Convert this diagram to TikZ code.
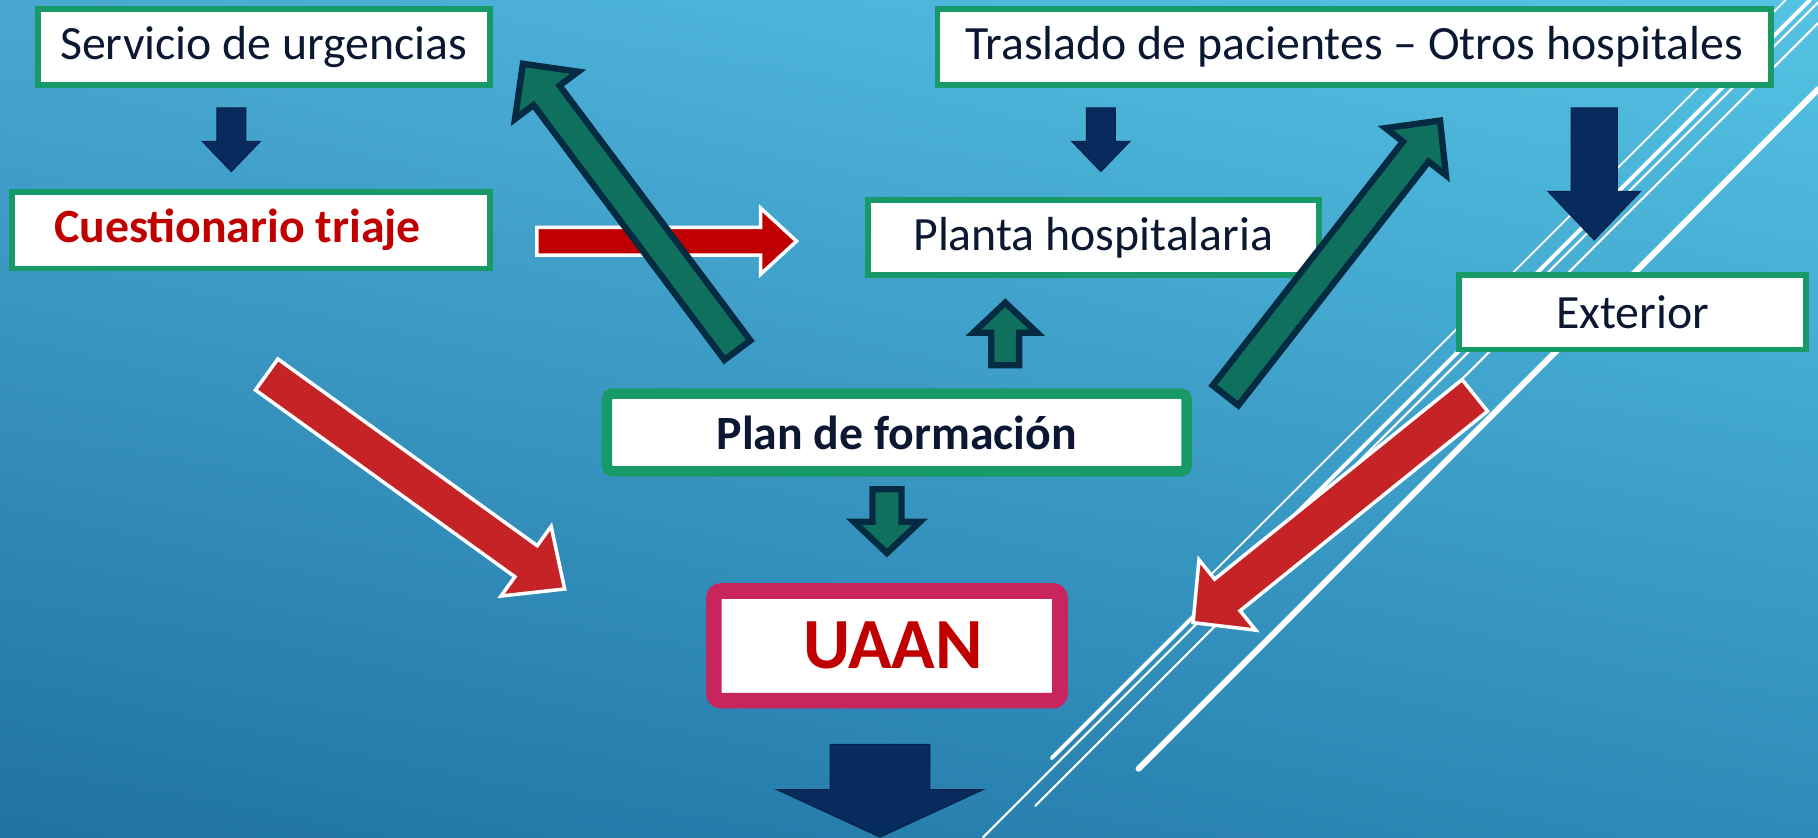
\documentclass[tikz,border=0pt]{standalone}
\usepackage{fontspec}
\setmainfont{Carlito}
\usetikzlibrary{calc, shadings}

\definecolor{boxgreen}{RGB}{24,154,104}
\definecolor{txtnavy}{RGB}{12,24,50}
\definecolor{arrownavy}{RGB}{6,43,92}
\definecolor{tealfill}{RGB}{16,112,94}
\definecolor{tealline}{RGB}{5,43,66}
\definecolor{redfill}{RGB}{198,35,38}
\definecolor{triajered}{RGB}{192,0,0}
\definecolor{uaanpink}{RGB}{200,36,94}
\definecolor{bgul}{RGB}{72,168,210}
\definecolor{bgur}{RGB}{85,195,228}
\definecolor{bgll}{RGB}{32,114,162}
\definecolor{bglr}{RGB}{46,139,185}

\newcommand{\dpx}{0.011594cm}
% block arrow: style, tail, tip, half shaft, half head, head length
\newcommand{\blockarrow}[6][]{%
  \pgfmathsetmacro{\shaftw}{#4*0.011594}%
  \pgfmathsetmacro{\headw}{#5*0.011594}%
  \pgfmathsetmacro{\headl}{#6*0.011594}%
  \draw[#1] ($(#2)!\shaftw cm!90:(#3)$)
    -- ($(#3)!\headl cm!(#2)!\shaftw cm!90:(#3)$)
    -- ($(#3)!\headl cm!(#2)!\headw cm!90:(#3)$)
    -- (#3)
    -- ($(#3)!\headl cm!(#2)!\headw cm!-90:(#3)$)
    -- ($(#3)!\headl cm!(#2)!\shaftw cm!-90:(#3)$)
    -- ($(#2)!\shaftw cm!-90:(#3)$) -- cycle;}

\begin{document}
\begin{tikzpicture}[x=0.011594cm, y=-0.011594cm,
  box/.style={draw=boxgreen, line width=1.65pt, fill=white, inner sep=0pt, text=txtnavy, font=\fontsize{13.6}{16}\selectfont},
  navyarrow/.style={fill=arrownavy, draw=arrownavy!80!black, line width=0.3pt},
  tealarrow/.style={fill=tealfill, draw=tealline, line width=1.8pt},
  redarrow/.style={fill=redfill, draw=white, line width=1pt},
  deco/.style={white, line cap=round}]
\useasboundingbox (0,0) rectangle (1568,722);
\shade[upper left=bgul, upper right=bgur, lower left=bgll, lower right=bglr] (0,0) rectangle (1568,722);

% white lines
\draw[deco, line width=0.5pt] (1540,0) -- (1040,500);
\draw[deco, line width=1.1pt] (1561,0) -- (907,654);
\draw[deco, line width=0.6pt] (1568,2) -- (848,722);
\draw[deco, line width=0.6pt] (1568,20) -- (893,695);
\draw[deco, line width=1.7pt] (1568,77) -- (982,663);

% boxes
\node[box, minimum width=390*\dpx, minimum height=66*\dpx] (urg) at (227.5,40.5) {Servicio de urgencias};
\node[box, minimum width=412*\dpx, minimum height=66*\dpx, text=triajered, font=\fontsize{13.6}{16}\selectfont\bfseries] (triaje) at (216.5,198.5) {Cuestionario triaje\hspace*{0.27cm}};
\node[box, minimum width=719*\dpx, minimum height=66*\dpx] (tras) at (1168,40.5) {Traslado de pacientes – Otros hospitales};
\node[box, minimum width=389*\dpx, minimum height=65*\dpx] (planta) at (943,205) {Planta hospitalaria};
\node[box, minimum width=299*\dpx, minimum height=64*\dpx] (ext) at (1408,269.5) {Exterior};
\node[box, line width=3pt, rounded corners=1.5pt, minimum width=500*\dpx, minimum height=67*\dpx, font=\fontsize{13.6}{16}\selectfont\bfseries] (plan) at (773.5,373) {Plan de formación};
\node[box, draw=uaanpink, line width=4.45pt, rounded corners=2pt, minimum width=298.5*\dpx, minimum height=94.5*\dpx, text=triajered, font=\fontsize{20.5}{24}\selectfont\bfseries] (uaan) at (765,557) {\hspace*{0.12cm}UAAN};

% arrow ends
\coordinate (urgs) at (199.5,93);  \coordinate (urge) at (199.5,148);
\coordinate (trass) at (949.5,93); \coordinate (trase) at (949.5,148);
\coordinate (exts) at (1375,93);   \coordinate (exte) at (1375,207);
\coordinate (outs) at (759,642);   \coordinate (oute) at (759,722);
\coordinate (plups) at (867,315);  \coordinate (plupe) at (867,261);
\coordinate (pldns) at (765,422);  \coordinate (pldne) at (765,477);
\coordinate (backs) at (636,302);  \coordinate (backe) at (451,55);
\coordinate (fwds) at (1057,341);  \coordinate (fwde) at (1242,104);
\coordinate (triajes) at (463,208); \coordinate (triajee) at (687,208);
\coordinate (lefts) at (230,323);  \coordinate (lefte) at (487,508);
\coordinate (rights) at (1272,341); \coordinate (righte) at (1029,537);

% red arrows
\blockarrow[redarrow, fill=triajered]{triajes}{triajee}{12}{28.5}{31}
\blockarrow[redarrow]{lefts}{lefte}{16.5}{37}{41}
\blockarrow[redarrow]{rights}{righte}{17.5}{39}{38}

% teal arrows
\blockarrow[tealarrow]{backs}{backe}{14}{34}{34}
\blockarrow[tealarrow]{fwds}{fwde}{14}{33}{34}
\blockarrow[tealarrow]{plups}{plupe}{12}{27.5}{26}
\blockarrow[tealarrow]{pldns}{pldne}{12.5}{28.5}{27}

% navy arrows
\blockarrow[navyarrow]{urgs}{urge}{12.5}{25}{26}
\blockarrow[navyarrow]{trass}{trase}{12.5}{25}{26}
\blockarrow[navyarrow]{exts}{exte}{20}{40}{42}
\blockarrow[navyarrow]{outs}{oute}{43}{89}{41}
\end{tikzpicture}
\end{document}
